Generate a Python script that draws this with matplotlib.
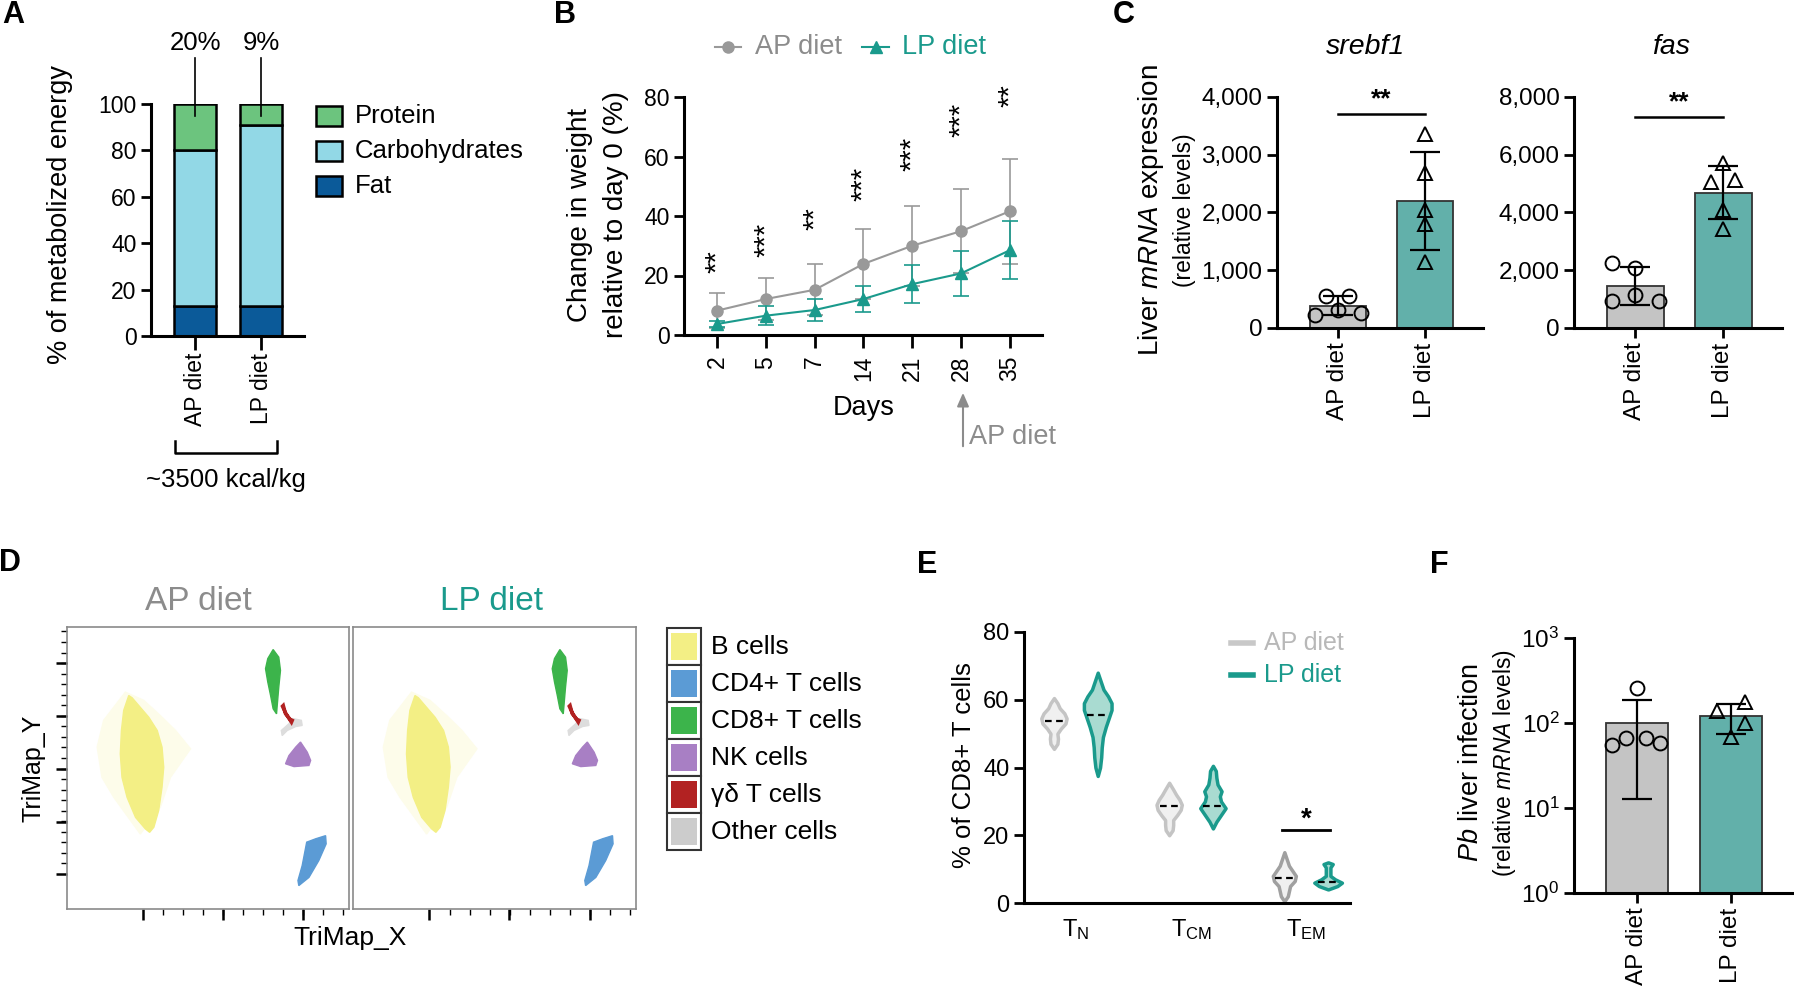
import numpy as np
import matplotlib
matplotlib.use('Agg')
import matplotlib.pyplot as plt
from matplotlib.patches import Rectangle
from matplotlib.ticker import FuncFormatter, FixedLocator, NullLocator
from matplotlib import font_manager

W, H = 1794, 999

# ---------------- data ----------------
# A: diet composition, % of metabolized energy
diets = ['AP diet', 'LP diet']
fat = [13, 13]
carbs = [67, 78]
protein = [20, 9]

# B: change in weight relative to day 0 (%)
days = ['2', '5', '7', '14', '21', '28', '35']
ap_weight = [8.2, 12.1, 15.2, 23.9, 30.0, 34.9, 41.6]
ap_weight_sd = [5.8, 7.1, 8.6, 11.7, 13.5, 14.2, 17.7]
lp_weight = [3.7, 6.5, 8.4, 12.1, 17.1, 20.7, 28.5]
lp_weight_sd = [1.0, 3.1, 3.8, 4.5, 6.5, 7.5, 9.8]
weight_stars = ['**', '***', '**', '***', '***', '***', '**']
weight_star_y = [24.6, 31.9, 39.2, 50.7, 61.0, 72.2, 80.6]

# C: liver mRNA expression, single mice (and their jitter)
srebf1_ap = [558, 558, 230, 317, 259]
srebf1_ap_dx = [-0.14, 0.13, -0.26, 0.0, 0.27]
srebf1_lp = [3367, 2676, 2043, 1795, 1151]
srebf1_lp_dx = [0.0, 0.0, 0.0, 0.0, 0.0]
fas_ap = [2268, 2095, 1151, 921, 921]
fas_ap_dx = [-0.27, 0.0, 0.0, -0.27, 0.27]
fas_lp = [5721, 5065, 5122, 4086, 3419]
fas_lp_dx = [0.0, -0.14, 0.14, 0.0, 0.0]

# D: TriMap cluster outlines (box units 0-100)
bhalo_x = [20.7, 13.0, 10.7, 12.4, 16.6, 26.0, 33.1, 36.7, 43.8, 38.5, 33.1, 27.2]
bhalo_y = [76.9, 66.9, 57.4, 46.7, 39.6, 26.6, 36.1, 46.7, 56.8, 63.3, 68.6, 74.0]
bcell_x = [21.9, 20.1, 19.3, 18.9, 19.5, 21.3, 24.3, 27.8, 29.3, 30.8, 32.5, 33.7,
           34.3, 33.7, 32.0, 29.0, 25.4, 23.1]
bcell_y = [75.7, 70.4, 63.3, 55.0, 46.7, 39.6, 32.5, 28.4, 27.2, 29.0, 34.9, 43.2,
           50.3, 57.4, 63.3, 68.0, 72.2, 74.9]
cd8_x = [73.1, 71.2, 70.4, 71.2, 72.2, 73.1, 74.3, 74.6, 75.1, 75.7, 75.1]
cd8_y = [92.0, 88.8, 85.2, 80.5, 75.7, 71.0, 69.2, 72.8, 78.7, 84.6, 89.3]
gd_x = [76.7, 77.5, 79.1, 79.9, 79.6, 78.5, 77.3, 76.4]
gd_y = [72.2, 69.2, 67.3, 66.9, 66.2, 67.9, 69.9, 71.9]
other_x = [80.2, 83.1, 83.4, 81.1, 78.1, 76.3, 76.0, 78.7]
other_y = [67.5, 66.9, 65.1, 64.7, 63.3, 61.5, 63.3, 65.7]
nk_x = [82.8, 85.2, 86.4, 85.8, 80.5, 77.5, 78.7, 81.1]
nk_y = [59.2, 55.6, 52.7, 50.9, 50.5, 51.5, 54.4, 57.4]
cd4_x = [91.7, 91.9, 89.3, 85.8, 82.2, 81.9, 83.4, 85.0, 88.2]
cd4_y = [26.0, 23.1, 17.2, 11.2, 8.3, 10.1, 15.4, 23.7, 24.9]
cell_types = ['B cells', 'CD4+ T cells', 'CD8+ T cells', 'NK cells', 'γδ T cells', 'Other cells']

# E: violin outlines (value, half width) and medians
subsets = [r'$\mathregular{T_N}$', r'$\mathregular{T_{CM}}$', r'$\mathregular{T_{EM}}$']
ap_tn_y = [45.5, 47, 48.5, 50, 51.5, 53, 54.5, 56, 57.5, 59, 60.5]
ap_tn_w = [0.0, 0.03, 0.035, 0.03, 0.06, 0.10, 0.11, 0.09, 0.05, 0.03, 0.0]
lp_tn_y = [37.5, 40, 43, 46, 49, 52, 55, 57, 59, 61, 63, 65, 68]
lp_tn_w = [0.0, 0.02, 0.03, 0.035, 0.045, 0.07, 0.10, 0.12, 0.12, 0.09, 0.05, 0.03, 0.0]
ap_tcm_y = [20, 21.5, 23, 24.5, 26, 27.5, 29, 30.5, 32, 33.5, 35.5]
ap_tcm_w = [0.0, 0.03, 0.035, 0.035, 0.07, 0.10, 0.11, 0.09, 0.06, 0.035, 0.0]
lp_tcm_y = [22, 24, 26, 28, 30, 31.5, 33, 35, 37, 39, 40.5]
lp_tcm_w = [0.0, 0.03, 0.07, 0.11, 0.07, 0.06, 0.075, 0.04, 0.03, 0.025, 0.0]
ap_tem_y = [0.5, 2, 3.5, 5, 6.5, 8, 9.5, 11, 12.5, 15]
ap_tem_w = [0.0, 0.03, 0.04, 0.05, 0.09, 0.10, 0.07, 0.04, 0.025, 0.0]
lp_tem_y = [4, 5, 6, 7, 8, 9, 10.5, 11.5, 12]
lp_tem_w = [0.0, 0.08, 0.12, 0.06, 0.02, 0.02, 0.02, 0.04, 0.0]
ap_medians = [53.8, 28.7, 7.5]
lp_medians = [55.6, 28.7, 6.2]

# F: Pb liver infection
pb_ap = [257, 55, 66, 66, 58]
pb_ap_dx = [0.0, -0.27, -0.12, 0.1, 0.25]
pb_lp = [137, 178, 101, 69]
pb_lp_dx = [-0.15, 0.15, 0.15, 0.0]

# ---------------- style ----------------
names = {f.name for f in font_manager.fontManager.ttflist}
NARROW = 'Liberation Sans Narrow' if 'Liberation Sans Narrow' in names else 'Liberation Sans'
plt.rcParams['font.family'] = ['Liberation Sans', 'DejaVu Sans']
plt.rcParams['mathtext.fontset'] = 'custom'
plt.rcParams['mathtext.rm'] = 'Liberation Sans'
plt.rcParams['mathtext.it'] = 'Liberation Sans:italic'
plt.rcParams['mathtext.bf'] = 'Liberation Sans:bold'

GRAY = '#999999'
TEAL = '#1a9a8c'
GRAY_BAR = '#c4c4c4'
TEAL_BAR = '#62b0aa'

fig = plt.figure(figsize=(W / 100, H / 100), dpi=100)


def box(x0, y0, x1, y1):
    return fig.add_axes([x0 / W, 1 - y1 / H, (x1 - x0) / W, (y1 - y0) / H])


def prism(ax, size=15):
    for s in ['top', 'right']:
        ax.spines[s].set_visible(False)
    for s in ['left', 'bottom']:
        ax.spines[s].set_linewidth(2.2)
    ax.tick_params(width=2, length=7, labelsize=size)


# ---------------- A ----------------
axA = box(151, 104, 304, 336)
xa = np.arange(len(diets))
axA.bar(xa, fat, 0.64, color='#0b5a99', edgecolor='k', lw=1.8)
axA.bar(xa, carbs, 0.64, bottom=fat, color='#92d8e6', edgecolor='k', lw=1.8)
axA.bar(xa, protein, 0.64, bottom=np.add(fat, carbs), color='#6cc47e', edgecolor='k', lw=1.8)
axA.set_xlim(-0.667, 1.65)
axA.set_ylim(0, 100)
axA.set_yticks(range(0, 101, 20))
axA.set_xticks(xa)
axA.set_xticklabels(diets, rotation=90, fontsize=20)
prism(axA, 16.5)
axA.tick_params(axis='x', length=10, pad=2)
for i, p in enumerate(protein):
    axA.plot([i, i], [95, 120], color='k', lw=1.2, clip_on=False)
    axA.text(i, 126.5, f'{p}%', ha='center', va='center', fontsize=18.5)

# ---------------- B ----------------
axB = box(684, 97, 1042, 335)
xb = np.arange(len(days))
axB.errorbar(xb, ap_weight, yerr=ap_weight_sd, color=GRAY, marker='o', ms=8,
             lw=1.5, elinewidth=1.2, capsize=6, capthick=1.2, zorder=2)
axB.errorbar(xb, lp_weight, yerr=lp_weight_sd, color=TEAL, marker='^', ms=8,
             lw=1.5, elinewidth=1.2, capsize=6, capthick=1.2, zorder=3)
for i, (s, y) in enumerate(zip(weight_stars, weight_star_y)):
    axB.text(i, y, s, rotation=90, ha='center', va='center', fontsize=21, clip_on=False)
axB.set_xlim(-0.68, 6.66)
axB.set_ylim(0, 80)
axB.set_yticks(range(0, 81, 20))
axB.set_xticks(xb)
axB.set_xticklabels(days, rotation=90, fontsize=17)
prism(axB, 16.5)
axB.tick_params(axis='x', length=9, pad=6)


# ---------------- C ----------------
def dot_bars(ax, ap, lp, ap_dx, lp_dx, log=False):
    groups = [(ap, ap_dx, GRAY_BAR, 'o'), (lp, lp_dx, TEAL_BAR, '^')]
    for i, (vals, dx, col, mk) in enumerate(groups):
        m = np.mean(vals)
        sd = np.std(vals, ddof=1)
        base = 1 if log else 0
        ax.bar(i, m - base, 0.65, bottom=base, color=col, edgecolor='#333333', lw=1.3, zorder=1)
        ax.errorbar(i, m, yerr=sd, color='k', capsize=11, elinewidth=1.6, capthick=1.6, zorder=3)
        ax.plot(i + np.array(dx), vals, mk, ms=10, mfc='none', mec='k', mew=1.4, ls='none', zorder=4)
    ax.set_xticks([0, 1])
    ax.set_xticklabels(diets, rotation=90, fontsize=21)
    ax.set_xlim(-0.7, 1.67)


comma = FuncFormatter(lambda v, p: f'{v:,.0f}')

axC1 = box(1277, 97, 1483, 328)
dot_bars(axC1, srebf1_ap, srebf1_lp, srebf1_ap_dx, srebf1_lp_dx)
axC1.set_ylim(0, 4000)
axC1.set_yticks(range(0, 4001, 1000))
axC1.yaxis.set_major_formatter(comma)
prism(axC1, 17.5)
axC1.plot([0, 1], [3712, 3712], color='k', lw=1.8)
axC1.text(0.5, 3960, '**', ha='center', va='center', fontsize=19, fontweight='bold')

axC2 = box(1574, 97, 1782, 328)
dot_bars(axC2, fas_ap, fas_lp, fas_ap_dx, fas_lp_dx)
axC2.set_ylim(0, 8000)
axC2.set_yticks(range(0, 8001, 2000))
axC2.yaxis.set_major_formatter(comma)
prism(axC2, 17.5)
axC2.plot([0, 1], [7309, 7309], color='k', lw=1.8)
axC2.text(0.5, 7820, '**', ha='center', va='center', fontsize=19, fontweight='bold')
for ax in (axC1, axC2):
    for t in ax.get_yticklabels():
        t.set_fontfamily(NARROW)

# ---------------- D ----------------
clusters = [
    (bhalo_x, bhalo_y, '#fdfcea', 1),
    (bcell_x, bcell_y, '#f3ef85', 1),
    (cd4_x, cd4_y, '#5b9bd5', 1),
    (cd8_x, cd8_y, '#3cb44b', 1),
    (nk_x, nk_y, '#a87fc4', 1),
    (other_x, other_y, '#dddddd', 1),
    (gd_x, gd_y, '#b22222', 2.5),
]
legend_cols = ['#f3ef85', '#5b9bd5', '#3cb44b', '#a87fc4', '#b22222', '#cccccc']
for k, (x0, x1) in enumerate([(67, 349), (353, 636)]):
    ax = box(x0, 627, x1, 909)
    for cx, cy, col, elw in clusters:
        ax.fill(cx, cy, color=col, ec=col, lw=elw)
    ax.set_xlim(0, 100)
    ax.set_ylim(0, 100)
    for s in ax.spines.values():
        s.set_color('#8a8a8a')
        s.set_linewidth(1.2)
    ax.xaxis.set_major_locator(FixedLocator([27.0, 55.3, 83.7]))
    ax.xaxis.set_minor_locator(FixedLocator(np.arange(34.1, 100, 7.1)))
    ax.tick_params(axis='x', which='major', length=8, width=1.8, labelbottom=False)
    ax.tick_params(axis='x', which='minor', length=4, width=1)
    if k == 0:
        ax.yaxis.set_major_locator(FixedLocator([12.4, 31.0, 49.7, 68.6, 87.3]))
        ax.yaxis.set_minor_locator(FixedLocator(np.arange(12.4, 100, 3.74)))
        ax.tick_params(axis='y', which='major', length=8, width=1.8, labelleft=False)
        ax.tick_params(axis='y', which='minor', length=4, width=1)
    else:
        ax.set_yticks([])

# ---------------- E ----------------
axE = box(1024, 632, 1350, 903)
violins = [
    (0, ap_tn_y, ap_tn_w, lp_tn_y, lp_tn_w),
    (1, ap_tcm_y, ap_tcm_w, lp_tcm_y, lp_tcm_w),
    (2, ap_tem_y, ap_tem_w, lp_tem_y, lp_tem_w),
]
for c, ay, aw, ly, lw_ in violins:
    ap_edge = '#a0a0a0' if c == 2 else '#c4c4c4'
    xa_ = c - 0.19
    xl_ = c + 0.19
    axE.fill_betweenx(ay, xa_ - np.array(aw), xa_ + np.array(aw), facecolor='#f0f0f0',
                      edgecolor=ap_edge, lw=2.5, joinstyle='round')
    axE.fill_betweenx(ly, xl_ - np.array(lw_), xl_ + np.array(lw_), facecolor='#a9dbd1',
                      edgecolor=TEAL, lw=2.5, joinstyle='round')
    axE.plot([xa_ - 0.08, xa_ + 0.08], [ap_medians[c]] * 2, 'k--', lw=1.6, dashes=(3, 2))
    axE.plot([xl_ - 0.09, xl_ + 0.09], [lp_medians[c]] * 2, 'k--', lw=1.6, dashes=(3, 2))
axE.plot([2 - 0.21, 2 + 0.21], [21.6, 21.6], color='k', lw=2)
axE.text(2, 24.6, '*', ha='center', va='center', fontsize=20, fontweight='bold')
axE.set_xlim(-0.45, 2.38)
axE.set_ylim(0, 80)
axE.set_yticks(range(0, 81, 20))
axE.set_xticks([0, 1, 2])
axE.set_xticklabels(subsets, fontsize=19)
prism(axE, 17)
axE.tick_params(axis='x', length=0, pad=10)
for t in axE.get_yticklabels():
    t.set_fontfamily(NARROW)

# ---------------- F ----------------
axF = box(1574, 638, 1794, 893)
axF.set_yscale('log')
dot_bars(axF, pb_ap, pb_lp, pb_ap_dx, pb_lp_dx, log=True)
axF.set_ylim(1, 1000)
axF.set_yticks([1, 10, 100, 1000])
axF.set_yticklabels([r'$\mathregular{10^0}$', r'$\mathregular{10^1}$',
                     r'$\mathregular{10^2}$', r'$\mathregular{10^3}$'])
axF.yaxis.set_minor_locator(NullLocator())
prism(axF, 17.5)
axF.set_xlim(-0.67, 1.67)

# ---------------- overlay: labels and annotations ----------------
ov = fig.add_axes([0, 0, 1, 1])
ov.set_xlim(0, W)
ov.set_ylim(H, 0)
ov.axis('off')

for lab, x, y in [('A', 13, 15), ('B', 565, 15), ('C', 1124, 15),
                  ('D', 10, 563), ('E', 927, 565), ('F', 1439, 565)]:
    ov.text(x, y, lab, fontsize=22, fontweight='bold', ha='center', va='center')

# A
ov.text(60, 215, '% of metabolized energy', rotation=90, ha='center', va='center', fontsize=19.5)
for i, (lab, col) in enumerate([('Protein', '#6cc47e'), ('Carbohydrates', '#92d8e6'), ('Fat', '#0b5a99')]):
    ov.add_patch(Rectangle((316, 106 + 35 * i), 26, 20, fc=col, ec='k', lw=1.8))
    ov.text(355, 116 + 35 * i, lab, va='center', fontsize=18.5)
ov.plot([175, 175, 277, 277], [441, 453, 453, 441], color='k', lw=1.8)
ov.text(226, 480, '~3500 kcal/kg', ha='center', va='center', fontsize=18.5)

# B
ov.text(580, 215, 'Change in weight', rotation=90, ha='center', va='center', fontsize=20)
ov.text(616, 215, 'relative to day 0 (%)', rotation=90, ha='center', va='center', fontsize=20)
ov.plot([715, 741], [47, 47], color=GRAY, lw=1.5)
ov.plot([728], [47], 'o', color=GRAY, ms=8)
ov.text(755, 47, 'AP diet', color='#8c8c8c', va='center', fontsize=19.5)
ov.plot([862, 889], [47, 47], color=TEAL, lw=1.5)
ov.plot([875.5], [47], '^', color=TEAL, ms=8)
ov.text(902, 47, 'LP diet', color=TEAL, va='center', fontsize=19.5)
ov.text(864, 408, 'Days', ha='center', va='center', fontsize=19.5)
ov.annotate('', xy=(963, 390), xytext=(963, 449),
            arrowprops=dict(arrowstyle='-|>,head_length=0.8,head_width=0.35', color='#8c8c8c', lw=1.5))
ov.text(969, 437, 'AP diet', color='#8c8c8c', va='center', fontsize=19.5)

# C
ov.text(1151, 210, r'Liver $\it{mRNA}$ expression', rotation=90, ha='center', va='center', fontsize=20)
ov.text(1185, 210, '(relative levels)', rotation=90, ha='center', va='center', fontsize=16.5)
ov.text(1366, 47, 'srebf1', style='italic', ha='center', va='center', fontsize=20.5)
ov.text(1671, 47, 'fas', style='italic', ha='center', va='center', fontsize=20.5)

# D
ov.text(198, 602, 'AP diet', color='#8c8c8c', ha='center', va='center', fontsize=24, family=NARROW)
ov.text(491, 602, 'LP diet', color=TEAL, ha='center', va='center', fontsize=24, family=NARROW)
ov.text(34, 768, 'TriMap_Y', rotation=90, ha='center', va='center', fontsize=18)
ov.text(350, 938, 'TriMap_X', ha='center', va='center', fontsize=19, family=NARROW)
for i, (lab, col) in enumerate(zip(cell_types, legend_cols)):
    y0 = 628 + 37 * i
    ov.add_patch(Rectangle((667, y0), 34, 37, fc='white', ec='#333333', lw=1.5))
    ov.add_patch(Rectangle((671, y0 + 5), 26, 27, fc=col, ec='none'))
    ov.text(711, y0 + 19, lab, va='center', fontsize=19, family=[NARROW, 'DejaVu Sans'])

# E
ov.text(964, 765, '% of CD8+ T cells', rotation=90, ha='center', va='center', fontsize=18.5)
ov.plot([1231, 1253], [643, 643], color='#c8c8c8', lw=4)
ov.text(1264, 643, 'AP diet', color='#b8b8b8', va='center', fontsize=18, family=NARROW)
ov.plot([1231, 1253], [675, 675], color=TEAL, lw=4)
ov.text(1264, 675, 'LP diet', color=TEAL, va='center', fontsize=18, family=NARROW)

# F
ov.text(1471, 762, r'$\it{Pb}$ liver infection', rotation=90, ha='center', va='center', fontsize=19.5)
ov.text(1504, 763, r'(relative $\it{mRNA}$ levels)', rotation=90, ha='center', va='center', fontsize=16.5)

fig.savefig('out.png', dpi=100)
